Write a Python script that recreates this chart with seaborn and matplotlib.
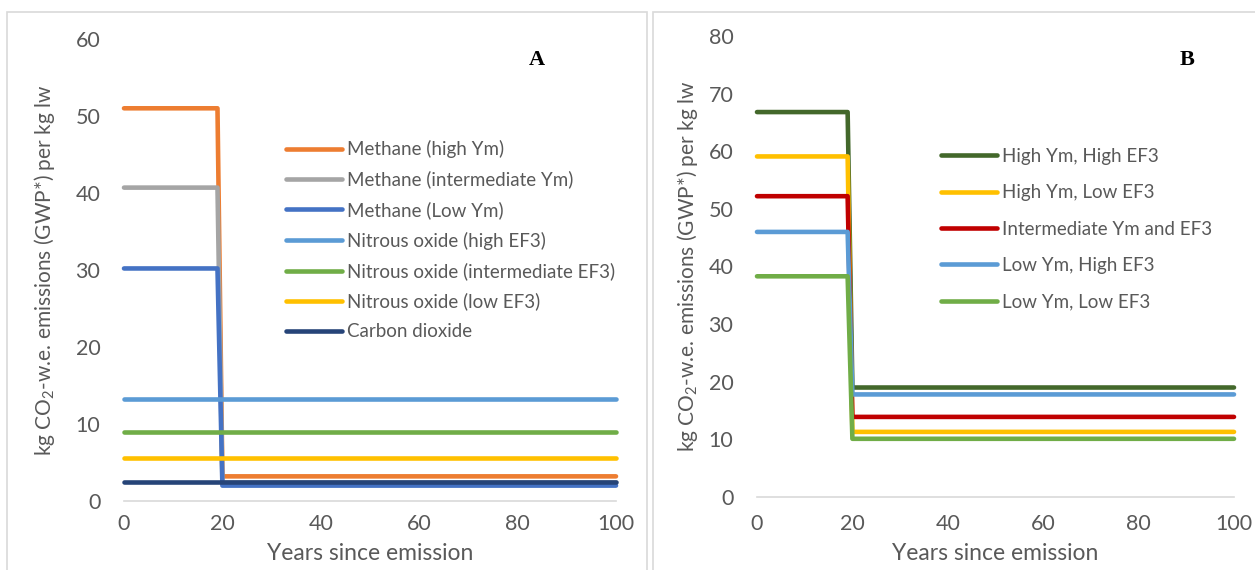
import matplotlib
matplotlib.use("Agg")
import matplotlib.pyplot as plt
from matplotlib.patches import Rectangle
import seaborn as sns
import pandas as pd

# ---------------- data ----------------
years = [0, 19, 20, 100]

series_a = ["Methane (high Ym)", "Methane (intermediate Ym)", "Methane (Low Ym)",
            "Nitrous oxide (high EF3)", "Nitrous oxide (intermediate EF3)",
            "Nitrous oxide (low EF3)", "Carbon dioxide"]
early_a = [51.0, 40.7, 30.2, 13.3, 9.0, 5.6, 2.5]   # years 0-19
late_a = [3.2, 2.4, 2.0, 13.3, 9.0, 5.6, 2.5]       # years 20-100
colors_a = ["#ED7D31", "#A5A5A5", "#4472C4", "#5B9BD5", "#70AD47", "#FFC000", "#264478"]

series_b = ["High Ym, High EF3", "High Ym, Low EF3", "Intermediate Ym and EF3",
            "Low Ym, High EF3", "Low Ym, Low EF3"]
early_b = [66.8, 59.1, 52.2, 46.0, 38.3]
late_b = [19.0, 11.3, 13.9, 17.8, 10.1]
colors_b = ["#43682B", "#FFC000", "#C00000", "#5B9BD5", "#70AD47"]

xticks = [0, 20, 40, 60, 80, 100]
yticks_a = [0, 10, 20, 30, 40, 50, 60]
yticks_b = [0, 10, 20, 30, 40, 50, 60, 70, 80]

ylabel = r"kg CO$_2$-w.e. emissions (GWP*) per kg lw"
xlabel = "Years since emission"


def long_df(names, early, late):
    rows = []
    for n, e, l in zip(names, early, late):
        for y in years:
            rows.append({"year": y, "value": e if y < 20 else l, "series": n})
    return pd.DataFrame(rows)


df_a = long_df(series_a, early_a, late_a)
df_b = long_df(series_b, early_b, late_b)

# ---------------- style ----------------
sns.set_theme(style="white")
plt.rcParams["font.family"] = ["Lato", "DejaVu Sans"]
plt.rcParams["mathtext.fontset"] = "custom"
plt.rcParams["mathtext.rm"] = "Lato"
plt.rcParams["mathtext.default"] = "regular"

TXT = "#595959"
GRID = "#D9D9D9"
LW = 3.3

fig = plt.figure(figsize=(12.55, 5.70), dpi=100)
W, H = 1255, 570

# panel borders
fig.patches.append(Rectangle((7 / W, -0.1), (647 - 7) / W, 1.1 - 12 / H,
                             transform=fig.transFigure, fill=False,
                             edgecolor=GRID, linewidth=1.2))
fig.patches.append(Rectangle((653 / W, -0.1), (1262 - 653) / W, 1.1 - 12 / H,
                             transform=fig.transFigure, fill=False,
                             edgecolor=GRID, linewidth=1.2))


def make_axes(x0, x1, y0, y1):
    return fig.add_axes([x0 / W, 1 - y0 / H, (x1 - x0) / W, (y0 - y1) / H])


ax_a = make_axes(124, 616, 501, 39)
ax_b = make_axes(757, 1234, 497, 36)


def style(ax, df, names, colors, yticks, ymax, letter, letter_xy, xpad):
    sns.lineplot(data=df, x="year", y="value", hue="series", hue_order=names,
                 palette=colors, linewidth=LW, ax=ax, legend=False,
                 solid_capstyle="round", solid_joinstyle="round", clip_on=False)
    ax.set_xlim(0, 100)
    ax.set_ylim(0, ymax)
    ax.set_xticks(xticks)
    ax.set_yticks(yticks)
    for s in ["top", "right", "left"]:
        ax.spines[s].set_visible(False)
    ax.spines["bottom"].set_color(GRID)
    ax.spines["bottom"].set_linewidth(1.2)
    ax.spines["bottom"].set_zorder(0)
    ax.tick_params(axis="both", length=0, labelsize=15.5, colors=TXT)
    ax.tick_params(axis="y", pad=17)
    ax.tick_params(axis="x", pad=xpad)
    ax.set_xlabel(xlabel, fontsize=16.5, color=TXT)
    ax.set_ylabel(ylabel, fontsize=15, color=TXT)
    ax.patch.set_alpha(0)
    ax.text(letter_xy[0], letter_xy[1], letter, transform=fig.transFigure,
            fontsize=16, fontweight="bold", family="Liberation Serif",
            ha="center", va="center", color="black")


style(ax_a, df_a, series_a, colors_a, yticks_a, 60, "A", (537 / W, 1 - 60 / H), 9)
style(ax_b, df_b, series_b, colors_b, yticks_b, 80, "B", (1187 / W, 1 - 60 / H), 12)

# label positions
for ax, xc, yl, x0, x1, y0, y1 in [(ax_a, 45, 553, 124, 616, 501, 39),
                                   (ax_b, 688, 553, 757, 1234, 497, 36)]:
    ax.yaxis.label.set(va="center", ha="center", rotation_mode="default")
    ax.yaxis.set_label_coords((xc - x0) / (x1 - x0), 0.5)
    ax.xaxis.label.set(va="center", ha="center")
    ax.xaxis.set_label_coords(0.5, (y0 - yl) / (y0 - y1))


def legend(ax, names, colors, x, y, spacing):
    handles = [plt.Line2D([], [], color=c, linewidth=LW, solid_capstyle="round")
               for c in colors]
    leg = ax.legend(handles, names, loc="upper left",
                    bbox_to_anchor=(x / W, 1 - y / H),
                    bbox_transform=fig.transFigure, frameon=False,
                    fontsize=13.5, handlelength=3.0, handletextpad=0.25,
                    labelspacing=spacing, borderaxespad=0, borderpad=0)
    for t in leg.get_texts():
        t.set_color(TXT)


legend(ax_a, series_a, colors_a, 286, 140, 0.67)
legend(ax_b, series_b, colors_b, 941, 148, 1.03)

fig.savefig("out.png", dpi=100)
